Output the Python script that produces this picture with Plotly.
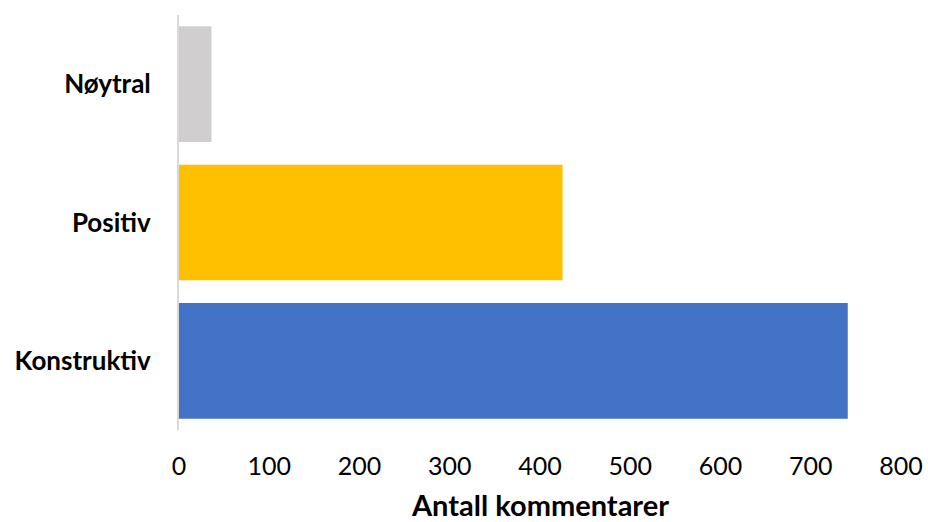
import plotly.graph_objects as go

categories = ["Konstruktiv", "Positiv", "Nøytral"]
counts = [741, 425, 36]
bar_colors = ["#4472C4", "#FFC000", "#D0CECE"]
x_ticks = [0, 100, 200, 300, 400, 500, 600, 700, 800]
x_title = "Antall kommentarer"

fig = go.Figure(
    go.Bar(
        x=counts,
        y=categories,
        orientation="h",
        marker=dict(color=bar_colors, line=dict(width=0)),
    )
)

fig.update_layout(
    width=928,
    height=522,
    margin=dict(l=179, r=27, t=15, b=92),
    plot_bgcolor="white",
    paper_bgcolor="white",
    bargap=0.164,
    showlegend=False,
    font=dict(family="Lato, Open Sans, sans-serif", color="#000000"),
)

fig.update_xaxes(
    range=[0, 800],
    tickvals=x_ticks,
    showgrid=False,
    zeroline=False,
    showline=False,
    automargin=False,
    tickfont=dict(size=25),
    ticklabelstandoff=19,
)

fig.update_yaxes(
    showgrid=False,
    zeroline=False,
    showline=True,
    linecolor="#D9D9D9",
    linewidth=2,
    automargin=False,
    tickfont=dict(size=26),
    ticklabelstandoff=21,
    tickprefix="<b>",
    ticksuffix="</b>",
)

# x-axis title placed below the tick labels
fig.add_annotation(
    text=f"<b>{x_title}</b>",
    xref="paper", yref="paper",
    x=0.5, y=0,
    xanchor="center", yanchor="middle",
    yshift=-74,
    showarrow=False,
    font=dict(size=29),
)

fig.write_html("out.html")
